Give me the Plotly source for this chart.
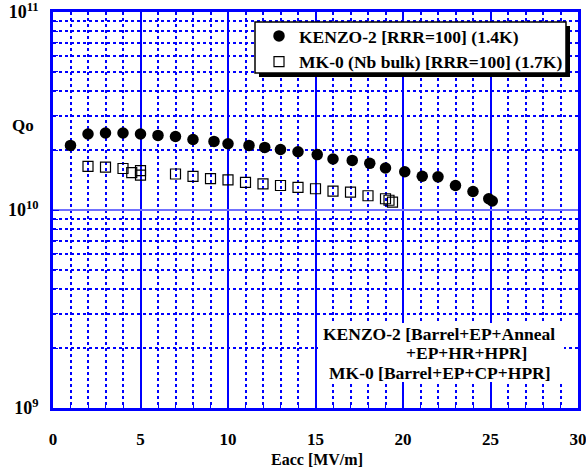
import plotly.graph_objects as go

# ---- data ----
kenzo_e = [1, 2, 3, 4, 5, 6, 7, 8, 9.2, 10, 11.2, 12.1, 13, 14, 15.1, 16, 17.1, 18.1, 19, 20.1, 21.1, 22, 23, 24, 24.9, 25.1]
kenzo_q = [2.12e10, 2.42e10, 2.45e10, 2.45e10, 2.42e10, 2.38e10, 2.35e10, 2.27e10, 2.22e10, 2.16e10,
           2.12e10, 2.07e10, 2.02e10, 1.97e10, 1.905e10, 1.81e10, 1.78e10, 1.72e10, 1.63e10, 1.56e10,
           1.48e10, 1.47e10, 1.33e10, 1.24e10, 1.14e10, 1.11e10]
mk0_e = [2, 3, 4, 4.5, 5, 5, 7, 8, 9, 10, 11, 12, 13, 14, 15, 16, 17, 18, 19, 19.2, 19.4]
mk0_q = [1.66e10, 1.645e10, 1.62e10, 1.545e10, 1.58e10, 1.50e10, 1.52e10, 1.48e10, 1.44e10, 1.42e10,
         1.38e10, 1.355e10, 1.33e10, 1.30e10, 1.28e10, 1.245e10, 1.23e10, 1.18e10, 1.14e10, 1.12e10, 1.095e10]

names = ["KENZO-2 [RRR=100] (1.4K)", "MK-0 (Nb bulk) [RRR=100] (1.7K)"]
x_ticks = [0, 5, 10, 15, 20, 25, 30]
y_tickvals = [1e9, 1e10, 1e11]
y_ticktext = ["10<sup>9</sup>", "10<sup>10</sup>", "10<sup>11</sup>"]
note_lines = ["KENZO-2 [Barrel+EP+Anneal", "+EP+HR+HPR]", "MK-0 [Barrel+EP+CP+HPR]"]

FONT = "Liberation Serif"
BLUE = "#0000ff"

fig = go.Figure()
fig.add_trace(go.Scatter(x=kenzo_e, y=kenzo_q, mode="markers", name=names[0],
                         marker=dict(symbol="circle", size=11.5, color="black")))
fig.add_trace(go.Scatter(x=mk0_e, y=mk0_q, mode="markers", name=names[1],
                         marker=dict(symbol="square-open", size=10, color="black",
                                     line=dict(width=1.2, color="black"))))

W, H = 586, 468
L, R, T, B = 53, 8, 12, 60
pw, ph = W - L - R, H - T - B

def px2paper(px, py):
    return (px - L) / pw, 1 - (py - T) / ph

fig.update_layout(
    width=W, height=H,
    margin=dict(l=L, r=R, t=T, b=B, autoexpand=False),
    paper_bgcolor="white", plot_bgcolor="white",
    font=dict(family=FONT, size=16, color="black", weight="bold"),
    showlegend=True,
    legend=dict(x=px2paper(259, 0)[0], y=px2paper(0, 18)[1], xanchor="left", yanchor="top",
                bgcolor="rgba(0,0,0,0)", borderwidth=0,
                font=dict(family=FONT, size=17.5, color="black", weight="bold"),
                itemwidth=30, tracegroupgap=0),
    xaxis=dict(range=[0, 30], tickvals=x_ticks, showgrid=True, gridcolor=BLUE, gridwidth=1.5,
               showline=True, linecolor=BLUE, linewidth=2.5, mirror=True, zeroline=False,
               automargin=False, ticklabeloverflow="allow",
               ticks="inside", ticklen=6, tickcolor=BLUE, ticklabelstandoff=14,
               tickfont=dict(family=FONT, size=17, weight="bold"),
               minor=dict(dtick=1, showgrid=True, gridcolor=BLUE, griddash="dot", gridwidth=1.5,
                          ticks="inside", ticklen=4, tickcolor=BLUE)),
    yaxis=dict(type="log", range=[9, 11], tickvals=y_tickvals, ticktext=y_ticktext,
               showgrid=True, gridcolor="#7070ff", gridwidth=1.5,
               showline=True, linecolor=BLUE, linewidth=2.5, mirror=True, zeroline=False,
               automargin=False, ticklabeloverflow="allow",
               ticks="inside", ticklen=6, tickcolor=BLUE, ticklabelstandoff=8,
               tickfont=dict(family=FONT, size=18, weight="bold"),
               minor=dict(dtick="D1", showgrid=True, gridcolor=BLUE, griddash="dot", gridwidth=1.5,
                          ticks="inside", ticklen=5, tickcolor=BLUE)),
)

# legend box with shadow
sx0, sy0 = px2paper(259, 77)
sx1, sy1 = px2paper(570, 26)
fig.add_shape(type="rect", xref="paper", yref="paper", x0=sx0, y0=sy0, x1=sx1, y1=sy1,
              fillcolor="black", line=dict(width=0), layer="above")
lx0, ly0 = px2paper(255, 73)
lx1, ly1 = px2paper(566, 22)
fig.add_shape(type="rect", xref="paper", yref="paper", x0=lx0, y0=ly0, x1=lx1, y1=ly1,
              fillcolor="white", line=dict(width=1.5, color="black"), layer="above")

# note box background
bx0, by0 = px2paper(318, 382)
bx1, by1 = px2paper(564, 323)
fig.add_shape(type="rect", xref="paper", yref="paper", x0=bx0, y0=by0, x1=bx1, y1=by1,
              fillcolor="white", line=dict(width=0), layer="above")

for text, lx, ly in zip(note_lines, [322, 405, 328], [333, 352.5, 372]):
    ax_, ay_ = px2paper(lx, ly)
    fig.add_annotation(text=text, xref="paper", yref="paper", x=ax_, y=ay_,
                       xanchor="left", yanchor="middle", showarrow=False,
                       height=17, borderpad=0, valign="middle",
                       font=dict(family=FONT, size=17.5, color="black", weight="bold"))

# axis titles
qx, qy = px2paper(10, 126)
fig.add_annotation(text="Qo", xref="paper", yref="paper", x=qx, y=qy, xanchor="left",
                   yanchor="middle", showarrow=False,
                   font=dict(family=FONT, size=17, color="black", weight="bold"))
ex, ey = px2paper(317, 459)
fig.add_annotation(text="Eacc [MV/m]", xref="paper", yref="paper", x=ex, y=ey, xanchor="center",
                   yanchor="middle", showarrow=False, height=17, borderpad=0,
                   font=dict(family=FONT, size=16, color="black", weight="bold"))

fig.write_html("out.html")
